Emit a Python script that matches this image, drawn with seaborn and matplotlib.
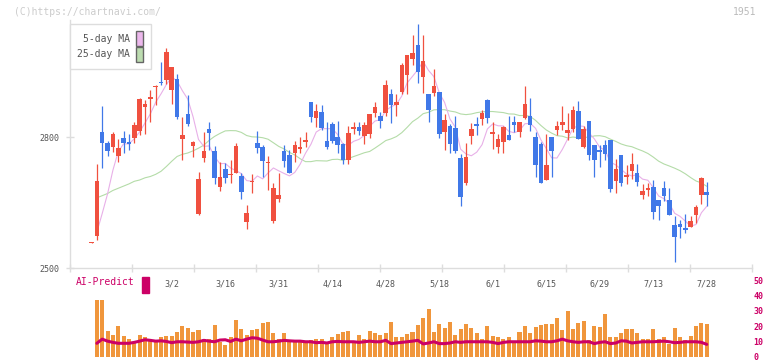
import numpy as np
import pandas as pd
import matplotlib
matplotlib.use("Agg")
import matplotlib.pyplot as plt
import seaborn as sns
from matplotlib.patches import Patch, Rectangle

# DONNEES ----------------------------------------------------------
opens = [
    2558, 2573, 2811, 2786, 2778, 2757, 2799, 2789, 2798, 2814,
    2869, 2888, 2915, 2928, 2931, 2908, 2934, 2795, 2854, 2779,
    2625, 2753, 2819, 2768, 2686, 2728, 2714, 2718, 2711, 2606,
    2697, 2786, 2777, 2740, 2608, 2659, 2768, 2759, 2763, 2772,
    2790, 2880, 2844, 2857, 2791, 2830, 2800, 2784, 2748, 2818,
    2823, 2802, 2807, 2855, 2850, 2856, 2899, 2873, 2903, 2942,
    2980, 3011, 2938, 2899, 2902, 2903, 2812, 2825, 2821, 2752,
    2696, 2802, 2830, 2841, 2885, 2808, 2778, 2789, 2805, 2834,
    2811, 2845, 2849, 2801, 2784, 2701, 2800, 2816, 2828, 2810,
    2818, 2860, 2778, 2837, 2782, 2770, 2782, 2793, 2700, 2759,
    2710, 2723, 2717, 2668, 2679, 2685, 2655, 2683, 2655, 2598,
    2600, 2591, 2594, 2621, 2668, 2674]
highs = [
    2560, 2738, 2871, 2792, 2811, 2797, 2814, 2807, 2834, 2890,
    2885, 2908, 2920, 2973, 3005, 2961, 2946, 2847, 2896, 2792,
    2720, 2811, 2835, 2781, 2743, 2740, 2747, 2786, 2717, 2644,
    2715, 2814, 2783, 2756, 2694, 2717, 2782, 2770, 2792, 2801,
    2812, 2880, 2876, 2873, 2834, 2834, 2837, 2787, 2825, 2834,
    2834, 2834, 2853, 2880, 2857, 2931, 2910, 2899, 2970, 2988,
    3034, 3059, 3034, 2899, 2956, 2903, 2854, 2830, 2850, 2761,
    2786, 2833, 2847, 2862, 2887, 2834, 2807, 2825, 2850, 2850,
    2835, 2917, 2891, 2812, 2789, 2807, 2801, 2837, 2871, 2856,
    2871, 2883, 2825, 2837, 2782, 2782, 2793, 2793, 2751, 2759,
    2736, 2763, 2738, 2692, 2694, 2703, 2655, 2699, 2683, 2619,
    2610, 2623, 2619, 2644, 2710, 2697]
lows = [
    2558, 2564, 2730, 2756, 2766, 2743, 2765, 2770, 2786, 2805,
    2808, 2835, 2873, 2919, 2923, 2877, 2841, 2747, 2825, 2755,
    2621, 2743, 2770, 2692, 2677, 2696, 2695, 2717, 2659, 2590,
    2671, 2765, 2708, 2679, 2603, 2651, 2731, 2717, 2743, 2763,
    2778, 2835, 2824, 2816, 2772, 2788, 2764, 2738, 2738, 2808,
    2805, 2784, 2799, 2847, 2821, 2850, 2833, 2850, 2900, 2900,
    2965, 2925, 2902, 2835, 2894, 2799, 2770, 2764, 2764, 2642,
    2691, 2784, 2805, 2828, 2833, 2774, 2764, 2764, 2793, 2812,
    2801, 2842, 2814, 2709, 2694, 2701, 2709, 2805, 2816, 2793,
    2811, 2795, 2775, 2747, 2709, 2732, 2747, 2674, 2671, 2688,
    2692, 2704, 2688, 2658, 2665, 2612, 2610, 2654, 2621, 2514,
    2569, 2580, 2594, 2603, 2647, 2642]
closes = [
    2560, 2699, 2786, 2769, 2808, 2775, 2787, 2785, 2828, 2888,
    2876, 2892, 2918, 2925, 2995, 2961, 2847, 2805, 2830, 2789,
    2704, 2768, 2810, 2707, 2708, 2707, 2716, 2779, 2674, 2627,
    2700, 2776, 2746, 2742, 2684, 2667, 2746, 2718, 2782, 2778,
    2793, 2847, 2860, 2821, 2778, 2792, 2782, 2748, 2809, 2823,
    2814, 2828, 2853, 2869, 2837, 2919, 2873, 2880, 2965, 2988,
    2993, 2950, 2974, 2862, 2917, 2808, 2839, 2784, 2769, 2663,
    2754, 2818, 2825, 2855, 2844, 2811, 2797, 2823, 2793, 2828,
    2835, 2876, 2828, 2736, 2696, 2736, 2769, 2825, 2834, 2816,
    2862, 2795, 2818, 2759, 2747, 2766, 2761, 2681, 2728, 2696,
    2713, 2738, 2697, 2676, 2683, 2629, 2642, 2665, 2621, 2571,
    2594, 2587, 2608, 2639, 2706, 2668]

# debut des moyennes mobiles (historique hors graphique)
ma5_head = [2582, 2625, 2670]
ma25_head = [2661, 2666, 2671, 2678, 2683, 2688, 2693, 2699, 2702, 2707,
             2710, 2715, 2722, 2733, 2745, 2756, 2761, 2764, 2769, 2775,
             2782, 2793, 2802]

date_labels = ["3/2", "3/16", "3/31", "4/14", "4/28", "5/18",
               "6/1", "6/15", "6/29", "7/13", "7/28"]
date_pos = [15, 25, 35, 45, 55, 65, 75, 85, 95, 105, 115]

ai_bars = [
    36.7, 36.7, 17.1, 14.6, 20.3, 13.9, 12.0, 10.0, 14.6, 12.7,
    12.0, 10.3, 13.3, 13.9, 13.9, 16.5, 20.3, 19.0, 16.5, 17.7,
    11.4, 12.0, 20.9, 9.9, 7.6, 12.7, 24.1, 18.4, 14.6, 17.7,
    18.4, 22.2, 22.8, 15.8, 12.0, 15.8, 10.3, 9.9, 9.9, 9.9,
    10.8, 11.4, 12.0, 8.2, 12.7, 15.2, 16.0, 17.1, 9.9, 14.6,
    11.4, 17.1, 15.8, 14.6, 15.8, 22.8, 12.7, 12.7, 15.2, 16.5,
    20.9, 25.3, 31.0, 16.5, 21.5, 19.0, 22.8, 14.6, 18.4, 21.5,
    19.0, 15.8, 11.4, 20.3, 13.9, 13.3, 11.4, 13.3, 9.9, 16.5,
    20.3, 15.8, 19.6, 20.9, 21.5, 21.5, 25.3, 17.7, 29.7, 18.4,
    22.2, 23.4, 10.8, 20.3, 19.6, 27.8, 12.7, 13.3, 15.8, 18.4,
    18.4, 15.8, 11.4, 12.0, 18.4, 12.0, 12.7, 8.2, 19.0, 12.7,
    10.8, 13.9, 20.3, 22.2, 21.5]
ai_line = [
    8.9, 11.6, 10.3, 9.5, 8.9, 8.9, 8.9, 9.5, 10.3, 11.2,
    10.8, 10.3, 10.5, 10.1, 9.3, 9.9, 9.9, 9.7, 9.5, 9.9,
    10.8, 10.3, 9.9, 11.0, 11.2, 10.1, 11.6, 10.5, 11.6, 12.5,
    12.2, 11.0, 9.9, 9.9, 10.3, 10.8, 10.5, 10.3, 10.3, 9.9,
    9.9, 9.3, 9.5, 9.1, 9.9, 10.1, 9.9, 9.9, 9.9, 9.5,
    9.9, 10.3, 9.9, 9.9, 10.8, 8.7, 9.1, 9.5, 9.9, 10.3,
    10.8, 8.5, 9.1, 9.9, 8.7, 8.7, 9.1, 9.9, 9.5, 9.9,
    9.9, 9.9, 9.9, 9.9, 9.5, 8.7, 9.5, 9.9, 9.9, 9.9,
    9.9, 9.9, 10.5, 10.3, 9.9, 9.9, 10.5, 11.6, 10.5, 9.9,
    9.5, 9.9, 9.9, 8.7, 9.5, 9.9, 8.7, 9.1, 10.5, 10.3,
    9.1, 9.5, 9.9, 9.9, 9.9, 10.1, 10.3, 9.9, 9.3, 9.5,
    9.9, 9.9, 9.9, 9.5, 8.2]

RED = "#f0503f"
BLUE = "#4078e8"
GRID = "#dddddd"
MAGENTA = "#cc0066"

# STYLE ------------------------------------------------------------
sns.set_theme(style="white")
plt.rcParams["font.family"] = ["DejaVu Sans Mono"]

W, H = 772, 361


def px_box(l, t, r, b):
    return [l / W, 1 - b / H, (r - l) / W, (b - t) / H]


fig = plt.figure(figsize=(W / 100, H / 100), dpi=100)
ax = fig.add_axes(px_box(70, 20, 752, 268))
axb = fig.add_axes(px_box(70, 280, 752, 357))
axb.patch.set_visible(False)

# x en index de seance : 91.5 px + 5.35 px par seance
xlim = ((70 - 91.5) / 5.35, (752 - 91.5) / 5.35)

# BOUGIES ----------------------------------------------------------
df = pd.DataFrame({"o": opens, "h": highs, "l": lows, "c": closes})
df["idx"] = np.arange(len(df))
df["col"] = np.where(df["c"] >= df["o"], RED, BLUE)

ma5 = df["c"].rolling(5).mean()
ma5.iloc[1:4] = ma5_head
ma25 = df["c"].rolling(25).mean()
ma25.iloc[1:24] = ma25_head

sns.lineplot(x=df["idx"], y=ma25, ax=ax, color="#b4dca8", linewidth=0.8, zorder=1)
sns.lineplot(x=df["idx"], y=ma5, ax=ax, color="#e8b0e8", linewidth=0.8, zorder=1)

ax.vlines(df["idx"], df["l"], df["h"], colors=df["col"], linewidth=0.9, zorder=2)
body = np.maximum((df["c"] - df["o"]).abs(), 2.5)
ax.bar(df["idx"], body, bottom=df[["o", "c"]].min(axis=1), width=0.85,
       color=df["col"], linewidth=0, zorder=3)

ax.set_xlim(*xlim)
ax.set_ylim(2500, 2500 + 248 / 0.4357)
ax.set_xlabel("")
ax.set_ylabel("")

for s in ["top", "right"]:
    ax.spines[s].set_visible(False)
for s in ["left", "bottom"]:
    ax.spines[s].set_color(GRID)
    ax.spines[s].set_linewidth(1.0)

ax.set_yticks([2500, 2800])
ax.set_yticklabels(["2500", "2800"])
ax.tick_params(axis="y", direction="inout", length=5.8, width=1, color=GRID,
               labelcolor="#555555", labelsize=6, pad=5, left=True)

ax.set_xticks(date_pos)
ax.set_xticklabels(date_labels)
ax.set_xticks([(70 + 62 * k - 91.5) / 5.35 for k in range(12)], minor=True)
ax.tick_params(axis="x", which="major", length=0, labelcolor="#555555",
               labelsize=6, pad=8)
ax.tick_params(axis="x", which="minor", direction="inout", length=5.8,
               width=1, color=GRID, bottom=True)

leg = ax.legend(
    handles=[Patch(facecolor="#ecb8ec", edgecolor="#666666"),
             Patch(facecolor="#bcdcb0", edgecolor="#666666")],
    labels=["5-day MA", "25-day MA"],
    loc="upper left", bbox_to_anchor=(0, 1 - 4 / 248), borderaxespad=0,
    markerfirst=False, fancybox=False, framealpha=1, edgecolor=GRID,
    prop={"family": "DejaVu Sans Mono", "size": 7}, labelcolor="#555555",
    handlelength=0.75, handleheight=1.9, labelspacing=0.15,
    borderpad=0.75, handletextpad=0.6)
leg.get_frame().set_linewidth(1.0)

# AI-PREDICT -------------------------------------------------------
bar_idx = df["idx"].iloc[1:].to_numpy()
sns.barplot(x=bar_idx, y=ai_bars, native_scale=True, ax=axb, color="#f0963c",
            saturation=1, width=0.75, errorbar=None, linewidth=0, zorder=1)
sns.lineplot(x=bar_idx, y=ai_line, ax=axb, color=MAGENTA, linewidth=2.2, zorder=2)

axb.set_xlim(*xlim)
axb.set_ylim(0, 50)
axb.set_xlabel("")
axb.set_ylabel("")
for s in axb.spines.values():
    s.set_visible(False)
axb.set_xticks([])
axb.yaxis.tick_right()
axb.set_yticks([0, 10, 20, 30, 40, 50])
axb.tick_params(axis="y", length=0, labelcolor=MAGENTA, labelsize=6, pad=1,
                right=True, left=False)
for t in axb.get_yticklabels():
    t.set_fontweight("bold")

fig.text(76 / W, 1 - 282 / H, "AI-Predict", color=MAGENTA, fontsize=7,
         va="center", ha="left")
fig.patches.append(Rectangle((142 / W, 1 - 293 / H), 7 / W, 16 / H,
                             transform=fig.transFigure, color=MAGENTA))

fig.text(14 / W, 1 - 12 / H, "(C)https://chartnavi.com/", color="#cccccc",
         fontsize=7, va="center", ha="left")
fig.text(756 / W, 1 - 12 / H, "1951", color="#bbbbbb", fontsize=7,
         va="center", ha="right")

fig.savefig("out.png", dpi=100)
